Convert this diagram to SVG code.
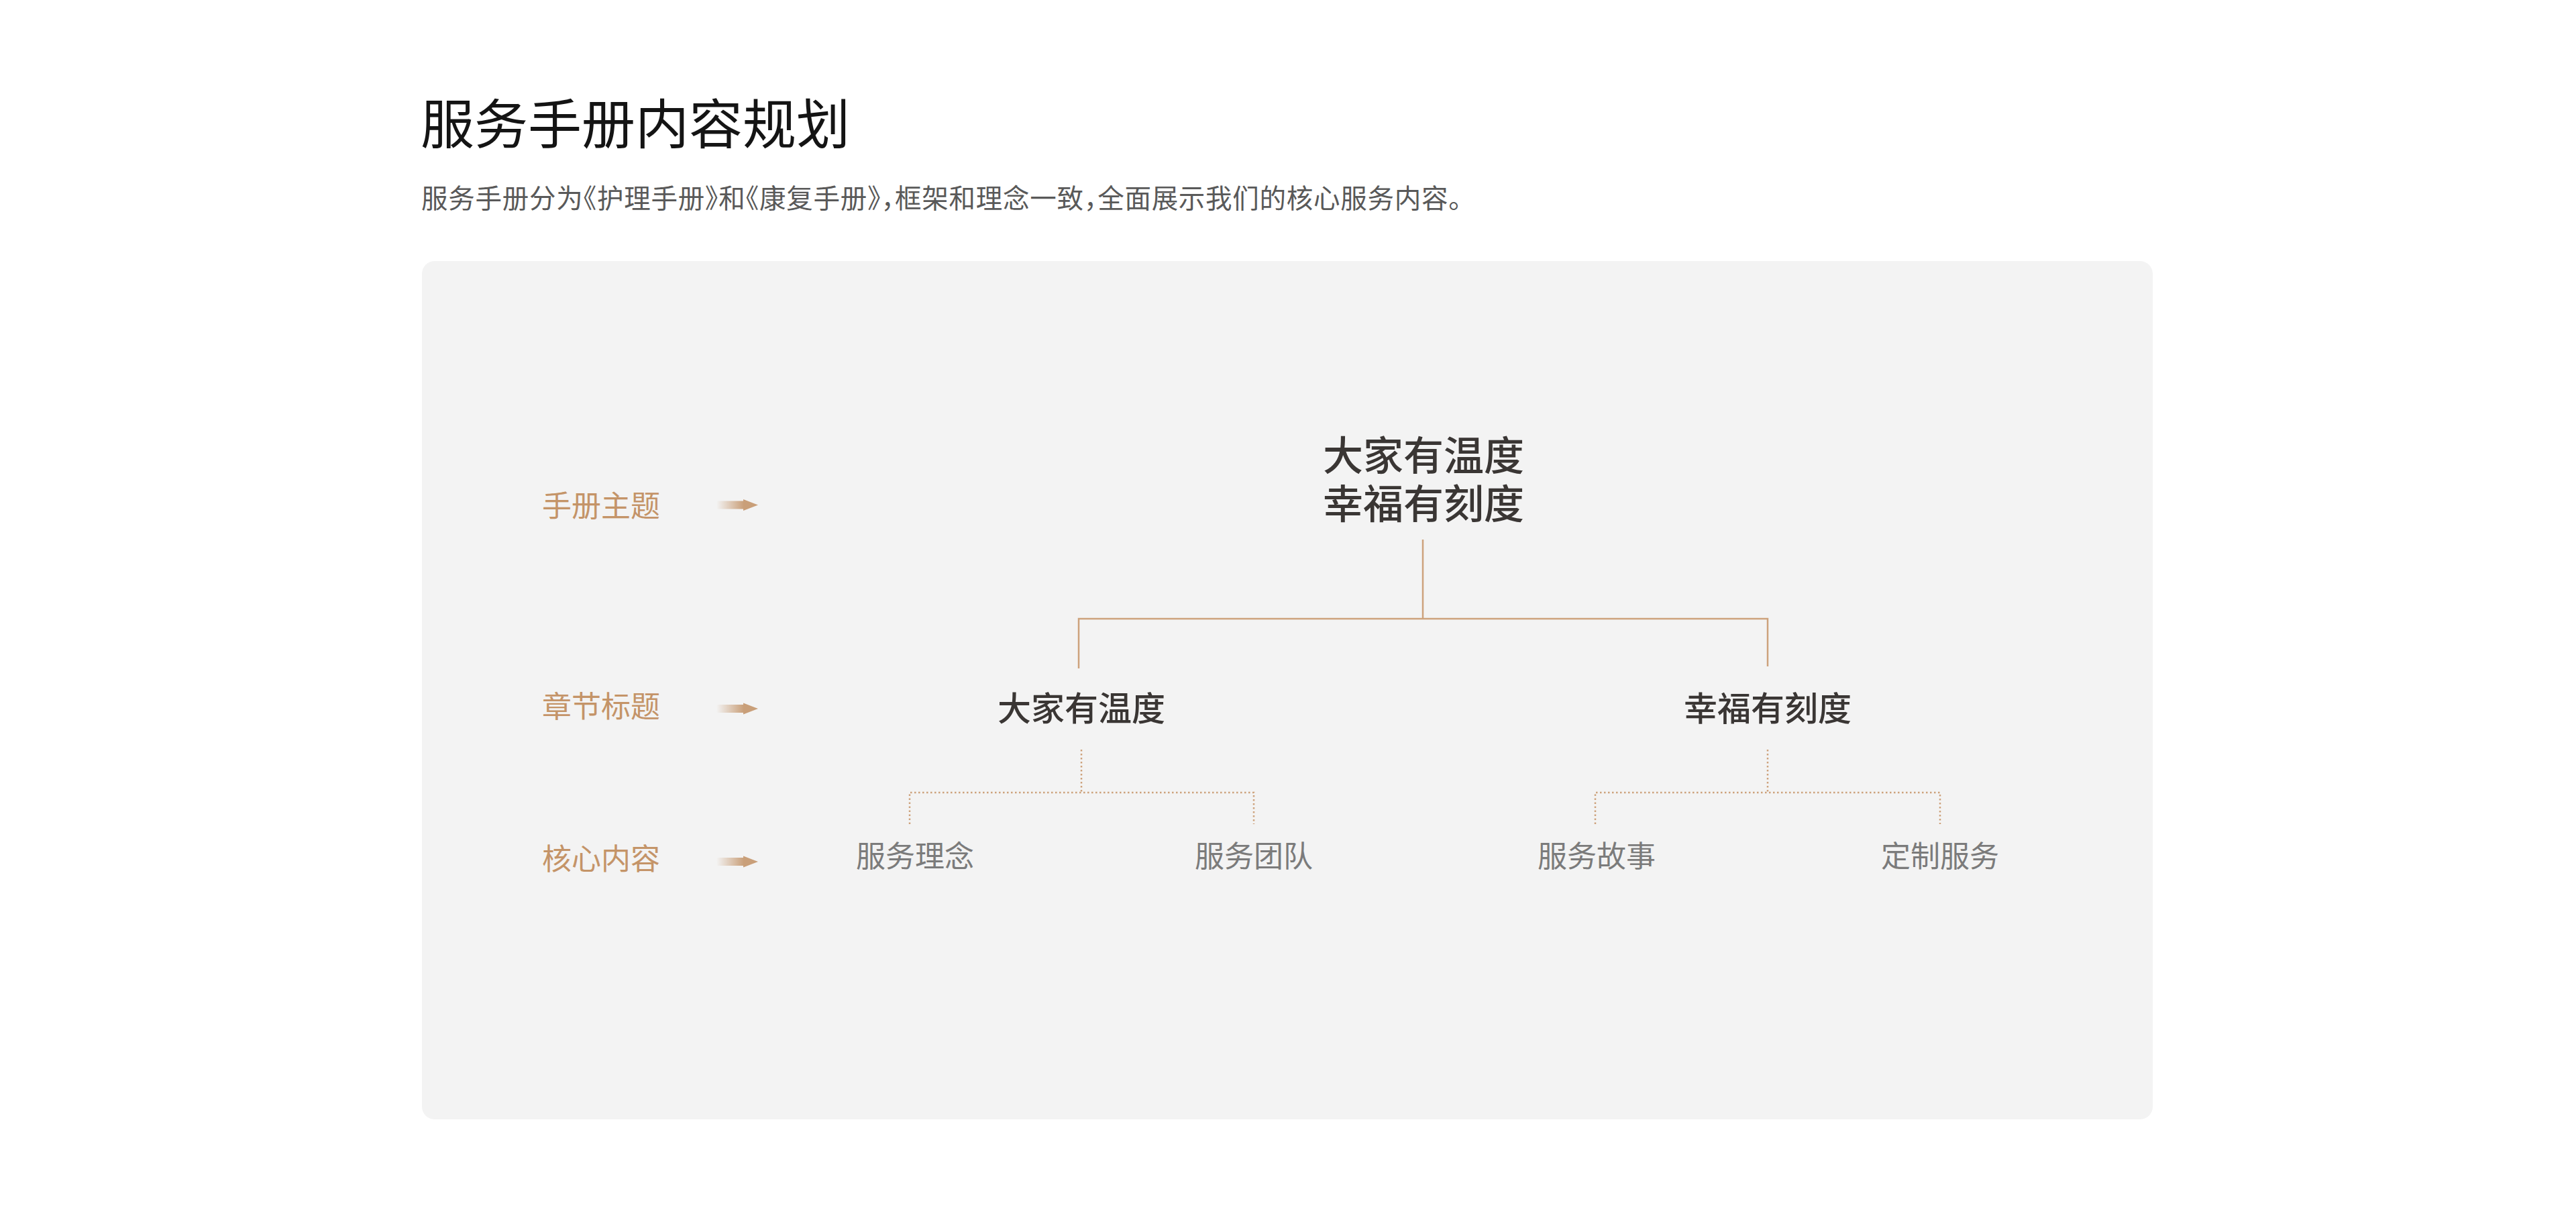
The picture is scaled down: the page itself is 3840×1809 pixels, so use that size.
<svg xmlns="http://www.w3.org/2000/svg" xmlns:xlink="http://www.w3.org/1999/xlink" width="3840" height="1809" viewBox="0 0 3840 1809">
  <style>
    text { font-family: "Noto Sans CJK SC", "Noto Sans", sans-serif; }
    .title { font-size: 80px; fill: #141414; font-weight: 400; }
    .sub { font-size: 39.5px; fill: #595959; font-weight: 400; font-feature-settings: "halt" 1; }
    .label { font-size: 44px; fill: #c49468; font-weight: 400; }
    .theme { font-size: 60px; fill: #3a3634; font-weight: 500; text-anchor: middle; }
    .chapter { font-size: 50px; fill: #3a3634; font-weight: 500; text-anchor: middle; }
    .leaf { font-size: 44px; fill: #7b7b7b; font-weight: 400; text-anchor: middle; }
    .solid { fill: none; stroke: #cda27c; stroke-width: 2.5; }
    .dotted { fill: none; stroke: #cda27c; stroke-width: 2.5; stroke-dasharray: 2.5 3.5; }
  </style>
  <defs>
    <linearGradient id="shaftGrad" x1="0" y1="0" x2="1" y2="0">
      <stop offset="0" stop-color="#c99f79" stop-opacity="0"/>
      <stop offset="1" stop-color="#c99f79" stop-opacity="1"/>
    </linearGradient>
    <g id="arrow">
      <rect x="0" y="-6" width="41" height="12" fill="url(#shaftGrad)"/>
      <polygon points="40,-8.5 62,0 40,8.5" fill="#c99f79"/>
    </g>
  </defs>

  <rect x="0" y="0" width="3840" height="1809" fill="#ffffff"/>

  <g id="header">
    <text class="title" x="627" y="214">服务手册内容规划</text>
    <text class="sub" x="628" y="310" textLength="1551" lengthAdjust="spacing">服务手册分为《护理手册》和《康复手册》，框架和理念一致，全面展示我们的核心服务内容。</text>
  </g>

  <rect id="panel" x="629" y="389" width="2580" height="1279" rx="19" ry="19" fill="#f3f3f3"/>

  <g id="level-labels">
    <g id="label-theme">
      <text class="label" x="808" y="770">手册主题</text>
      <use xlink:href="#arrow" href="#arrow" x="1068" y="752.5"/>
    </g>
    <g id="label-chapter">
      <text class="label" x="808" y="1069">章节标题</text>
      <use xlink:href="#arrow" href="#arrow" x="1068" y="1056"/>
    </g>
    <g id="label-content">
      <text class="label" x="808" y="1296">核心内容</text>
      <use xlink:href="#arrow" href="#arrow" x="1068" y="1284"/>
    </g>
  </g>

  <g id="connectors">
    <path class="solid" d="M2121 804 V922"/>
    <path class="solid" d="M1608 996 V922 H2635 V993"/>
    <path class="dotted" d="M1612 1117 V1180"/>
    <path class="dotted" d="M1356 1228 V1181 H1869 V1228"/>
    <path class="dotted" d="M2635 1117 V1180"/>
    <path class="dotted" d="M2378 1228 V1181 H2892 V1228"/>
  </g>

  <g id="node-theme">
    <text class="theme" x="2122" y="701">大家有温度</text>
    <text class="theme" x="2122" y="773">幸福有刻度</text>
  </g>

  <g id="node-chapter-1">
    <text class="chapter" x="1612" y="1074">大家有温度</text>
  </g>
  <g id="node-chapter-2">
    <text class="chapter" x="2635" y="1074">幸福有刻度</text>
  </g>

  <g id="node-leaf-1">
    <text class="leaf" x="1364" y="1292">服务理念</text>
  </g>
  <g id="node-leaf-2">
    <text class="leaf" x="1869" y="1292">服务团队</text>
  </g>
  <g id="node-leaf-3">
    <text class="leaf" x="2380" y="1292">服务故事</text>
  </g>
  <g id="node-leaf-4">
    <text class="leaf" x="2892" y="1292">定制服务</text>
  </g>
</svg>
